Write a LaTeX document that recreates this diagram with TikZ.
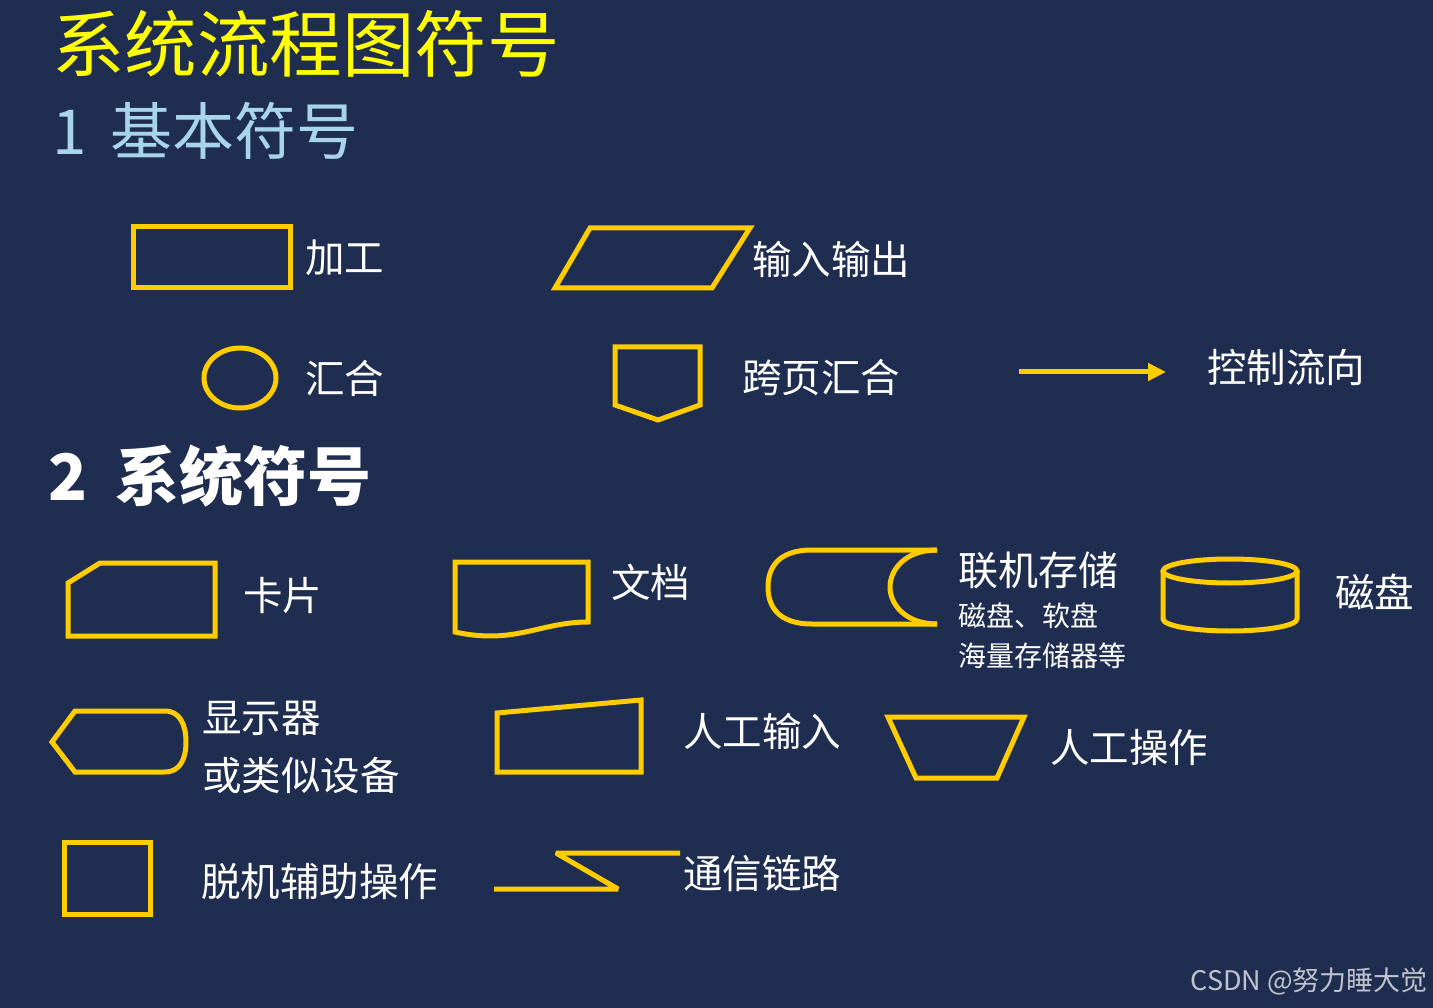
\documentclass[tikz,border=0pt]{standalone}
\usepackage{fontspec}
\setmainfont{Noto Sans CJK SC}
\newfontfamily\cjk{Noto Sans CJK SC}
\usetikzlibrary{arrows.meta}
\definecolor{bgblue}{HTML}{1F2D50}
\definecolor{shapeyellow}{HTML}{FFCC00}
\definecolor{titleyellow}{HTML}{FFFF00}
\definecolor{subblue}{HTML}{A8D4EC}
\definecolor{wmgray}{HTML}{BFC3CC}
\tikzset{
  sym/.style={draw=shapeyellow, line width=5pt, line join=miter},
  lbl/.style={anchor=west, text=white, inner sep=0pt, font=\cjk\fontsize{39.5}{41}\selectfont},
  smalllbl/.style={anchor=west, text=white, inner sep=0pt, font=\cjk\fontsize{28}{30}\selectfont},
}
\begin{document}
\begin{tikzpicture}[x=1pt,y=-1pt]
\fill[bgblue] (0,0) rectangle (1433,1008);
\useasboundingbox (0,0) rectangle (1433,1008);

% titles
\node[anchor=west, inner sep=0pt, text=titleyellow, font=\cjk\fontsize{72.5}{75}\selectfont] (title) at (52,44) {系统流程图符号};
\node[anchor=west, inner sep=0pt, text=subblue, font=\cjk\fontsize{62}{64}\selectfont] (sec1) at (52,131) {1\hspace{24pt}基本符号};
\node[anchor=west, inner sep=0pt, text=white, font=\cjk\bfseries\fontsize{64}{66}\selectfont] (sec2) at (48,476) {2\hspace{28pt}系统符号};

% 1 basic symbols
\draw[sym] (133,227) rectangle (290,288);
\node[lbl] (jiagong) at (305,258) {加工};

\draw[sym] (590,228) -- (750,228) -- (712,288) -- (555,288) -- cycle;
\node[lbl] (io) at (752,259) {输入输出};

\draw[sym] (240,378) ellipse [x radius=36, y radius=30];
\node[lbl] (huihe) at (305,378) {汇合};

\draw[sym] (615,347) -- (700,347) -- (700,405) -- (658,420) -- (615,405) -- cycle;
\node[lbl] (kuaye) at (742,378) {跨页汇合};

\coordinate (arrA) at (1019,372);
\coordinate (arrB) at (1166,372);
\draw[draw=shapeyellow, line width=5pt, -{Triangle[length=18pt,width=17pt]}] (arrA) -- (arrB);
\node[lbl] (kongzhi) at (1207,367) {控制流向};

% 2 system symbols
\draw[sym] (100,563) -- (215,563) -- (215,636) -- (68,636) -- (68,583) -- cycle;
\node[lbl] (kapian) at (243,596) {卡片};

\draw[sym] (455,562) -- (588,562) -- (588,622) .. controls (540,622) and (515,645) .. (455,632) -- cycle;
\node[lbl] (wendang) at (611,582) {文档};

\draw[sym] (937,550) -- (812,550) .. controls (776,550) and (768,570) .. (768,587) .. controls (768,604) and (776,624) .. (812,624) -- (937,624);
\draw[sym] (937,550) .. controls (905,550) and (890,570) .. (890,587) .. controls (890,604) and (905,624) .. (937,624);
\node[lbl, font=\cjk\fontsize{40}{42}\selectfont] (lianji) at (958,570) {联机存储};
\node[smalllbl] (lianji2) at (958,616) {磁盘、软盘};
\node[smalllbl] (lianji3) at (958,656) {海量存储器等};

\draw[sym] (1230,571) ellipse [x radius=67, y radius=12];
\draw[sym] (1163,571) -- (1163,619) arc[start angle=180, end angle=360, x radius=67, y radius=-12] -- (1297,571);
\node[lbl] (cipan) at (1335,592) {磁盘};

\draw[sym] (75,711) -- (165,711) .. controls (180,711) and (186,725) .. (186,742) .. controls (186,759) and (180,772) .. (165,772) -- (75,772) -- (52,742) -- cycle;
\node[lbl] (xianshi1) at (202,718) {显示器};
\node[lbl] (xianshi2) at (202,775) {或类似设备};

\draw[sym] (497,713) -- (641,700) -- (641,772) -- (497,772) -- cycle;
\node[lbl] (rgsr) at (683,731) {人工输入};

\draw[sym] (888,717) -- (1024,717) -- (997,778) -- (916,778) -- cycle;
\node[lbl] (rgcz) at (1050,748) {人工操作};

\draw[sym] (64,842) rectangle (150,914);
\node[lbl] (tuoji) at (201,882) {脱机辅助操作};

\coordinate (lkA) at (494,889);
\coordinate (lkB) at (618,889);
\coordinate (lkC) at (556,853);
\coordinate (lkD) at (680,853);
\draw[sym, line join=bevel] (lkA) -- (lkB) -- (lkC) -- (lkD);
\node[lbl] (tongxin) at (683,873) {通信链路};

\node[anchor=east, inner sep=0pt, text=wmgray, font=\cjk\fontsize{27}{29}\selectfont] (wm) at (1428,981) {CSDN @努力睡大觉};
\end{tikzpicture}
\end{document}
